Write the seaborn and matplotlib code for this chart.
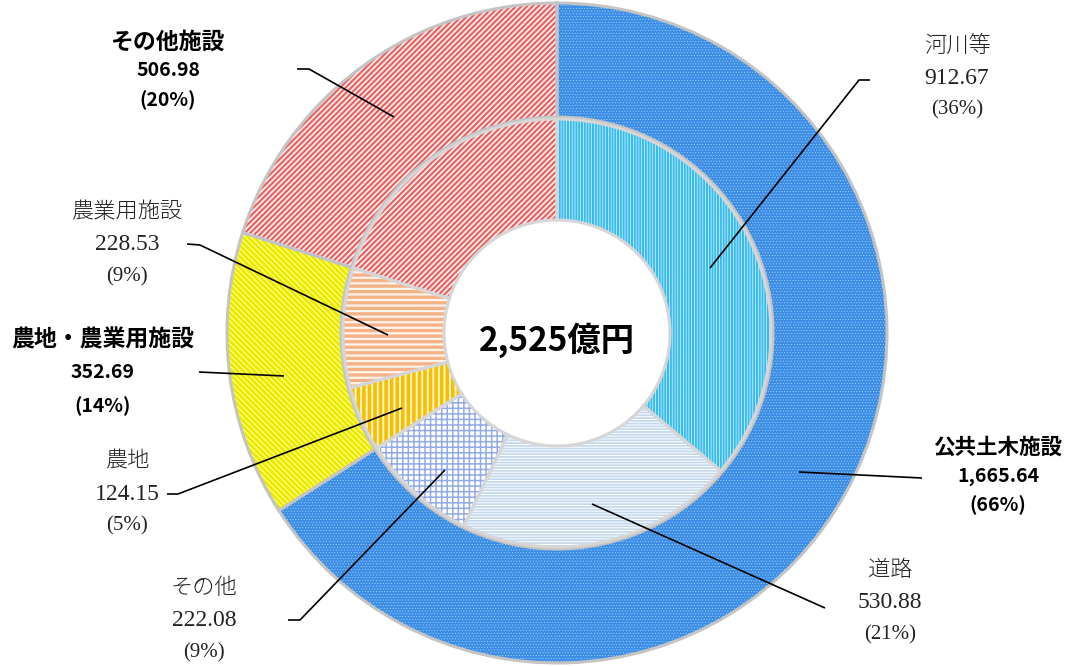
import matplotlib
matplotlib.use("Agg")
import matplotlib.pyplot as plt
import seaborn as sns

# ---- data ----
outer_labels = ["公共土木施設", "農地・農業用施設", "その他施設"]
outer_values = [1665.64, 352.69, 506.98]
outer_pcts = ["66%", "14%", "20%"]

inner_labels = ["河川等", "道路", "その他", "農地", "農業用施設", "その他施設"]
inner_values = [912.67, 530.88, 222.08, 124.15, 228.53, 506.98]
inner_pcts = ["36%", "21%", "9%", "5%", "9%", "20%"]

total_label = "2,525億円"

# ---- style ----
sns.set_theme(style="white")
plt.rcParams["font.family"] = ["Noto Sans CJK JP", "DejaVu Sans"]
plt.rcParams["hatch.linewidth"] = 1.5

W, H = 1079, 666
fig = plt.figure(figsize=(W / 100, H / 100), dpi=100)
ax = fig.add_axes([0, 0, 1, 1])

cx, cy = 557, H - 333
R_out, w_out = 330, 114
R_in, w_in = 214, 101

outer_face = ["#3a8ce4", "#ffff8c", "#fff0f0"]
outer_hatchc = ["#9fd0ff", "#eaea00", "#ee5c5c"]
outer_hatch = ["......", "\\" * 6, "/" * 6]
outer_hlw = [0.4, 2.0, 1.5]

inner_face = ["#e2f6fd", "#ffffff", "#ffffff", "#fff6d0", "#fff4ec", "#fff0f0"]
inner_hatchc = ["#38bbed", "#c4d9ee", "#93abe6", "#f7bf00", "#f6b286", "#ee5c5c"]
inner_hatch = ["|" * 6, "-" * 6, "+++", "|||", "---", "/" * 6]
inner_hlw = [1.5, 1.3, 1.1, 2.6, 2.4, 1.5]

common = dict(startangle=90, counterclock=False, center=(cx, cy))


def ring(values, radius, width, faces, hcols, hatches, hlws, edge):
    ax.pie(values, radius=radius, colors=faces,
           wedgeprops=dict(width=width, linewidth=0), **common)
    w2, _ = ax.pie(values, radius=radius, colors=["none"] * len(values),
                   wedgeprops=dict(width=width, linewidth=0), **common)
    for wd, hc, ht, hl in zip(w2, hcols, hatches, hlws):
        wd.set_facecolor("none")
        wd.set_edgecolor(hc)
        wd.set_hatch(ht)
        wd.set_linewidth(0)
        if hasattr(wd, "set_hatch_linewidth"):
            wd.set_hatch_linewidth(hl)
        else:
            wd._hatch_linewidth = hl
    w3, _ = ax.pie(values, radius=radius, colors=["none"] * len(values),
                   wedgeprops=dict(width=width, linewidth=2.2,
                                   edgecolor=edge, facecolor="none"), **common)
    for wd in w3:
        wd.set_facecolor("none")


ring(outer_values, R_out, w_out, outer_face, outer_hatchc, outer_hatch,
     outer_hlw, "#c4c4c4")
ring(inner_values, R_in, w_in, inner_face, inner_hatchc, inner_hatch,
     inner_hlw, "#d6d6d6")

ax.set_xlim(0, W)
ax.set_ylim(0, H)
ax.set_aspect("equal")
ax.axis("off")

serif = ["Liberation Serif", "Noto Sans CJK JP"]


def Y(py):
    return H - py


def label_bold(x, y0, name, val, pct, gap=29, size=16.5):
    ax.text(x, Y(y0), name, ha="center", va="center", fontsize=size,
            fontweight="bold", color="black")
    ax.text(x, Y(y0 + gap), val, ha="center", va="center", fontsize=14,
            fontweight="bold", color="black")
    ax.text(x, Y(y0 + 2 * gap), f"({pct})", ha="center", va="center",
            fontsize=14, fontweight="bold", color="black")


def label_serif(x, y0, name, val, pct, gap=32):
    ax.text(x, Y(y0), name, ha="center", va="center", fontsize=16,
            family=serif, color="#222222", fontweight="light")
    ax.text(x, Y(y0 + gap), val, ha="center", va="center", fontsize=17,
            family=serif, color="#222222")
    ax.text(x, Y(y0 + 2 * gap), f"({pct})", ha="center", va="center",
            fontsize=15, family=serif, color="#222222")


def leader(pts):
    xs = [p[0] for p in pts]
    ys = [Y(p[1]) for p in pts]
    ax.plot(xs, ys, color="black", lw=1.2, solid_capstyle="butt")


# outer labels (bold)
label_bold(998, 447, outer_labels[0], f"{outer_values[0]:,.2f}", outer_pcts[0], size=15.5)
label_bold(103, 340, outer_labels[1], f"{outer_values[1]:,.2f}", outer_pcts[1], gap=33)
label_bold(168, 42, outer_labels[2], f"{outer_values[2]:,.2f}", outer_pcts[2])

# inner labels (serif)
label_serif(957, 46, inner_labels[0], f"{inner_values[0]:,.2f}", inner_pcts[0])
label_serif(890, 571, inner_labels[1], f"{inner_values[1]:,.2f}", inner_pcts[1])
label_serif(204, 589, inner_labels[2], f"{inner_values[2]:,.2f}", inner_pcts[2])
label_serif(127, 462, inner_labels[3], f"{inner_values[3]:,.2f}", inner_pcts[3])
label_serif(127, 213, inner_labels[4], f"{inner_values[4]:,.2f}", inner_pcts[4])

# leader lines
leader([(922, 478), (799, 472)])
leader([(199, 372), (284, 376)])
leader([(297, 69), (309, 69), (394, 117)])
leader([(870, 80), (859, 80), (710, 268)])
leader([(825, 608), (592, 504)])
leader([(288, 620), (300, 620), (445, 470)])
leader([(167, 494), (178, 494), (402, 408)])
leader([(187, 244), (200, 245), (388, 335)])

ax.text(cx, Y(340), total_label, ha="center", va="center", fontsize=24,
        fontweight="bold", color="black")

fig.savefig("out.png", dpi=100)
